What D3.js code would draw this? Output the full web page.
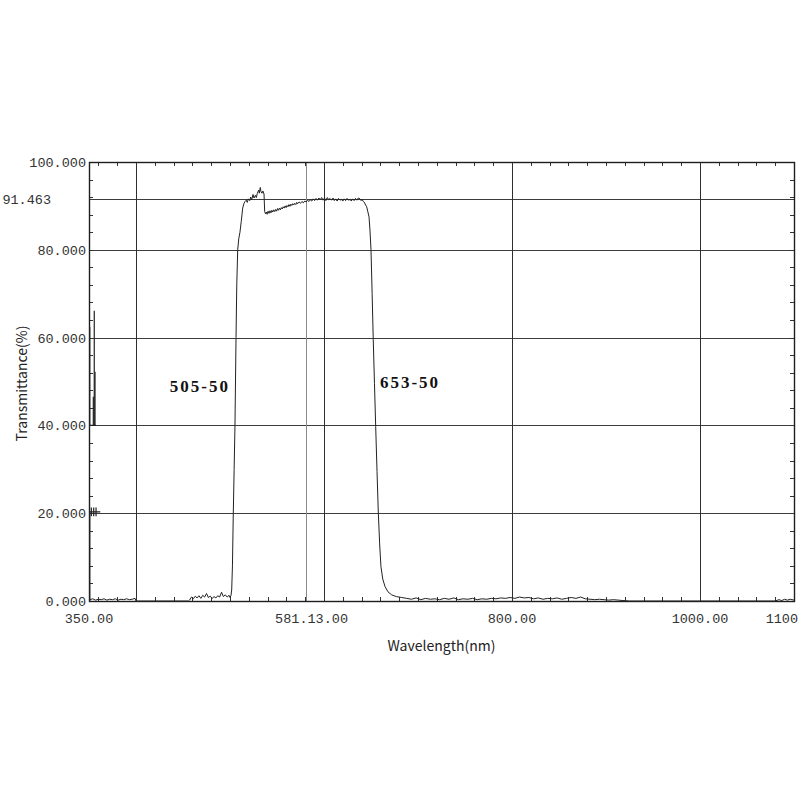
<!DOCTYPE html>
<html>
<head>
<meta charset="utf-8">
<script src="https://cdn.jsdelivr.net/npm/d3@7"></script>
<style>
  body { margin: 0; background: #fff; }
  svg { display: block; }
</style>
</head>
<body>
<div id="chart"></div>
<script>
// transmittance curve, [wavelength nm, T %]
const baseLeft = [[351, 0.3], [354, 0.5], [357, 0.2], [360, 0.4], [363, 0.3], [366, 0.5], [369, 0.2], [372, 0.4], [375, 0.3], [378, 0.5], [381, 0.2], [384, 0.4], [387, 0.3], [390, 0.5], [393, 0.3], [396, 0.4], [399, 0.6], [400, 0], [456, 0]]
const preRise = [[457, 0.2], [459, 0.9], [461, 0.5], [463, 1.1], [465, 0.7], [467, 1.2], [469, 0.6], [471, 1.3], [473, 0.9], [475, 1.7], [477, 0.8], [479, 1.1], [481, 0.6], [483, 1.0], [485, 0.7], [487, 1.2], [489, 0.9], [491, 2.0], [493, 1.0], [495, 1.4], [497, 0.9], [499, 1.3]]
const riseEdge = [[500, 0.8], [501, 1.2], [501.8, 2.5], [502.6, 8], [503.5, 20], [504.4, 30], [505.3, 40], [506.4, 60], [507.2, 72], [508.2, 80], [509.3, 82.5], [510.6, 84], [512, 86.5], [513.5, 89.5], [514.9, 90.6]]
const plateau = [[516, 91.0], [517.3, 91.3], [518.4, 90.8], [519.5, 91.6], [521, 91.2], [522, 92.0], [523, 91.4], [524.5, 92.6], [525.5, 91.8], [527, 92.4], [528, 91.9], [529, 92.8], [530.5, 93.6], [531.2, 92.9], [532.2, 94.2], [533, 93.2], [534, 92.9], [535, 93.4], [536.2, 92.7], [536.9, 88.7], [537.8, 88.2], [538.6, 88.6], [539.5, 88.1], [540.5, 88.8], [541.5, 88.3], [542.5, 88.9], [543.5, 88.4], [544.5, 89.0], [545.5, 88.6], [546.5, 89.1], [547.6, 88.7], [548.6, 89.2], [549.6, 88.8], [550.6, 89.4], [551.6, 89.0], [552.6, 89.5], [553.6, 89.1], [554.6, 89.6], [555.6, 89.3], [556.6, 89.8], [557.6, 89.5], [558.7, 90.0], [559.7, 89.6], [560.7, 90.1], [561.7, 89.8], [562.7, 90.3], [563.8, 89.9], [564.8, 90.4], [565.8, 90.1], [566.8, 90.5], [567.8, 90.2], [568.8, 90.6], [570, 90.3], [571, 90.8], [572, 90.5], [573.5, 90.9], [575, 90.6], [576.5, 91.0], [578, 90.7], [579.5, 91.1], [581, 90.9], [582.5, 91.3], [584, 91.0], [585.5, 91.4], [587, 91.1], [588.5, 91.6], [590, 91.2], [591.5, 91.7], [593, 91.3], [594.5, 91.8], [596, 91.4], [597.5, 91.9], [599, 91.3], [600.5, 91.8], [602, 91.2], [603.5, 91.9], [605, 91.4], [606.5, 91.7], [608, 91.3], [609.6, 91.8], [611, 91.2], [612.5, 91.6], [614, 91.1], [615.5, 91.7], [617, 91.3], [618.5, 91.5], [620, 91.1], [621.5, 91.6], [623, 91.2], [624.5, 91.7], [626, 91.3], [627.7, 91.5], [629, 91.1], [630.5, 91.6], [632, 91.2], [633.5, 91.7], [635, 91.3], [636.5, 91.8], [638.3, 91.6], [639.5, 91.2], [640.5, 91.5], [641.8, 91.0], [643, 90.8], [644.2, 90.2], [645.4, 89.8]]
const fallEdge = [[646.5, 88.8], [647.9, 87.5], [648.9, 84.5], [650, 80], [651.2, 70], [652.4, 59.5], [653.7, 49.5], [655, 39.7], [656.4, 29.5], [657.8, 20], [659.2, 13], [660.6, 7.8], [662.5, 5], [664.9, 3.3], [668, 2.1], [672, 1.4], [677, 1.0], [682.7, 0.8]]
const baseRight = [[688, 0.6], [693, 0.4], [698, 0.7], [703, 0.3], [708, 0.6], [713, 0.4], [718, 0.5], [723, 0.3], [728, 0.6], [733, 0.4], [738, 0.7], [743, 0.3], [748, 0.5], [753, 0.4], [758, 0.6], [763, 0.3], [768, 0.5], [773, 0.4], [778, 0.6], [783, 0.5], [788, 0.7], [793, 0.6], [798, 0.8], [803, 0.6], [808, 0.9], [813, 0.7], [818, 0.8], [823, 0.5], [828, 0.7], [833, 0.4], [838, 0.6], [843, 0.5], [848, 0.7], [853, 0.4], [858, 0.6], [863, 0.8], [868, 0.6], [873, 0.9], [878, 0.5], [883, 0.4], [888, 0.3], [893, 0.4], [898, 0.3], [903, 0.2], [908, 0.3], [913, 0.2], [918, 0.1], [925, 0], [1080, 0], [1084, 0.3], [1087, 0.1], [1090, 0.4], [1093, 0.2], [1096, 0.4], [1100, 0.2]]

// detector spikes at the very start of the scan
const spikes = [
  [[350.8, 0], [350.8, 20.3], [362, 20.3]],
  [[352.5, 19.3], [352.5, 21.3]],
  [[355, 19.3], [355, 21.3]],
  [[357.5, 19.3], [357.5, 21.3]],
  [[350.8, 62.4], [350.8, 40], [357.4, 40]],
  [[354.6, 46.5], [354.6, 40]],
  [[355.6, 66.1], [355.6, 40]],
  [[356.4, 52.2], [356.4, 40]]
]

const xDomain = [350, 1100]
const yDomain = [0, 100]
const xGrid = [400, 581.13, 600, 800, 1000]
const xLabels = [350, 800, 1000, 1100]
// the 581.13 marker label is printed over the 600.00 label, leaving only its tail
const markWl = 581.13
const markWlTail = '.00'
const yGrid = [20, 40, 60, 80, 91.463]
const yLabels = [0, 20, 40, 60, 80, 100]
const markLevel = 91.463
const bandNames = [{ text: '505-50', wl: 468, t: 47.5 }, { text: '653-50', wl: 691.5, t: 48.5 }]

const width = 800
const height = 800
const margin = { left: 89, right: 6, top: 162, bottom: 199 }

const svg = d3.select('#chart').append('svg')
  .attr('width', width)
  .attr('height', height)

const x = d3.scaleLinear().domain(xDomain).range([margin.left, width - margin.right])
const y = d3.scaleLinear().domain(yDomain).range([height - margin.bottom, margin.top])

const x0 = x.range()[0]
const x1 = x.range()[1]
const y0 = y.range()[0]
const y1 = y.range()[1]

// grid
svg.append('g').selectAll('line').data(yGrid).enter().append('line')
  .attr('x1', x0).attr('x2', x1)
  .attr('y1', d => Math.round(y(d)) + 0.5).attr('y2', d => Math.round(y(d)) + 0.5)
  .style('stroke', '#3c3c3c').style('stroke-width', 1)

svg.append('g').selectAll('line').data(xGrid).enter().append('line')
  .attr('y1', y0).attr('y2', y1)
  .attr('x1', d => Math.round(x(d)) + 0.5).attr('x2', d => Math.round(x(d)) + 0.5)
  .style('stroke', d => d === markWl ? '#8a8a8a' : '#2e2e2e').style('stroke-width', 1)

// minor ticks, pointing inward
const xMinor = d3.range(360, 1100, 20)
const yMinor = d3.range(4, 100, 4)
const tickLen = 4
const ticks = svg.append('g').style('stroke', '#333').style('stroke-width', 1)
ticks.selectAll('.tb').data(xMinor).enter().append('line')
  .attr('x1', d => Math.round(x(d)) + 0.5).attr('x2', d => Math.round(x(d)) + 0.5)
  .attr('y1', y0).attr('y2', y0 - tickLen)
ticks.selectAll('.tt').data(xMinor).enter().append('line')
  .attr('x1', d => Math.round(x(d)) + 0.5).attr('x2', d => Math.round(x(d)) + 0.5)
  .attr('y1', y1).attr('y2', y1 + tickLen)
ticks.selectAll('.tl').data(yMinor).enter().append('line')
  .attr('y1', d => Math.round(y(d)) + 0.5).attr('y2', d => Math.round(y(d)) + 0.5)
  .attr('x1', x0).attr('x2', x0 + tickLen)
ticks.selectAll('.tr').data(yMinor).enter().append('line')
  .attr('y1', d => Math.round(y(d)) + 0.5).attr('y2', d => Math.round(y(d)) + 0.5)
  .attr('x1', x1).attr('x2', x1 - tickLen)

// frame
svg.append('rect')
  .attr('x', x0 + 0.5).attr('y', y1 + 0.5)
  .attr('width', x1 - x0).attr('height', y0 - y1)
  .style('fill', 'none').style('stroke', '#1e1e1e').style('stroke-width', 1.4)

// curve
const line = d3.line().x(d => x(d[0])).y(d => y(d[1]))
const curve = [].concat(baseLeft, preRise, riseEdge, plateau, fallEdge, baseRight)

svg.append('path')
  .datum(curve)
  .attr('d', line)
  .style('fill', 'none')
  .style('stroke', '#222')
  .style('stroke-width', 1)
  .style('stroke-linejoin', 'round')

svg.append('g').selectAll('path').data(spikes).enter().append('path')
  .attr('d', line)
  .style('fill', 'none')
  .style('stroke', '#222')
  .style('stroke-width', 1.2)

// axis labels
const monoFont = '"Liberation Mono", "DejaVu Sans Mono", monospace'

svg.append('g').selectAll('text').data(yLabels).enter().append('text')
  .attr('x', x0 - 3)
  .attr('y', d => y(d) + 5)
  .attr('text-anchor', 'end')
  .style('font-family', monoFont)
  .style('font-size', '13.5px')
  .style('fill', '#333')
  .text(d => d.toFixed(3))

svg.append('text')
  .attr('x', 51)
  .attr('y', y(markLevel) + 5)
  .attr('text-anchor', 'end')
  .style('font-family', monoFont)
  .style('font-size', '13.5px')
  .style('fill', '#333')
  .text(markLevel.toFixed(3))

svg.append('g').selectAll('text').data(xLabels).enter().append('text')
  .attr('x', d => x(d))
  .attr('y', y0 + 22)
  .attr('text-anchor', 'middle')
  .style('font-family', monoFont)
  .style('font-size', '13.5px')
  .style('fill', '#333')
  .text(d => d.toFixed(2))

svg.append('text')
  .attr('x', x(600) + 24)
  .attr('y', y0 + 22)
  .attr('text-anchor', 'end')
  .style('font-family', monoFont)
  .style('font-size', '13.5px')
  .style('fill', '#333')
  .text(markWl.toFixed(2) + markWlTail)

svg.append('text')
  .attr('x', (x0 + x1) / 2)
  .attr('y', y0 + 50)
  .attr('text-anchor', 'middle')
  .style('font-family', '"Noto Sans CJK SC", "Noto Sans", sans-serif')
  .style('font-size', '14px')
  .style('fill', '#222')
  .text('Wavelength(nm)')

svg.append('text')
  .attr('transform', `translate(27,${(y0 + y1) / 2 + 2}) rotate(-90)`)
  .attr('text-anchor', 'middle')
  .style('font-family', '"Noto Sans CJK SC", "Noto Sans", sans-serif')
  .style('font-size', '14px')
  .style('fill', '#222')
  .text('Transmittance(%)')

// filter names
svg.append('g').selectAll('text').data(bandNames).enter().append('text')
  .attr('x', d => x(d.wl))
  .attr('y', d => y(d.t))
  .attr('text-anchor', 'middle')
  .style('font-family', '"Liberation Serif", "DejaVu Serif", serif')
  .style('font-weight', 'bold')
  .style('font-size', '17px')
  .style('letter-spacing', '2px')
  .style('fill', '#111')
  .text(d => d.text)
</script>
</body>
</html>
